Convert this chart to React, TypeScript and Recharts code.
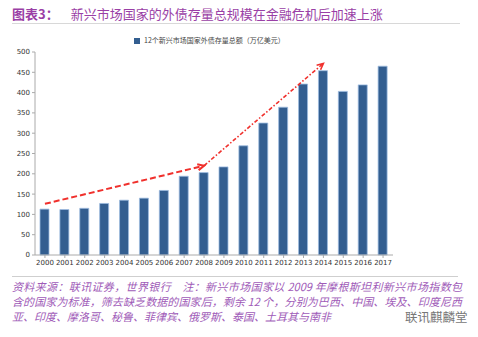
import React from "react"
import { BarChart, Bar, XAxis, YAxis, Legend, ReferenceLine } from "recharts"

const years = ["2000", "2001", "2002", "2003", "2004", "2005", "2006", "2007", "2008", "2009", "2010", "2011", "2012", "2013", "2014", "2015", "2016", "2017"]
const debtTotals = [113, 112, 115, 127, 135, 140, 159, 194, 203, 217, 269, 325, 364, 421, 454, 403, 419, 465]
const yTicks = [0, 50, 100, 150, 200, 250, 300, 350, 400, 450, 500]

// trend arrows (drawn by hand in the original)
const slowTrendYears = ["2000", "2008"]
const slowTrendValues = [126, 220]
const fastTrendYears = ["2008", "2014"]
const fastTrendValues = [220, 472]

const seriesName = "12个新兴市场国家外债存量总额（万亿美元）"
const titleLabel = "图表3："
const titleText = "新兴市场国家的外债存量总规模在金融危机后加速上涨"
const noteLines = [
  "资料来源：联讯证券，世界银行　注：新兴市场国家以 2009 年摩根斯坦利新兴市场指数包",
  "含的国家为标准，筛去缺乏数据的国家后，剩余 12 个，分别为巴西、中国、埃及、印度尼西",
  "亚、印度、摩洛哥、秘鲁、菲律宾、俄罗斯、泰国、土耳其与南非",
]
const watermark = "联讯麒麟堂"

const data = years.map((year, i) => ({ year, total: debtTotals[i] }))

const CJK = '"Noto Sans CJK SC", "Noto Sans", sans-serif'
const RED = "#f0302c"

const arrowShape = (dash: string, width: number) => (props: any) => {
  const { x1, y1, x2, y2 } = props
  const ang = Math.atan2(y2 - y1, x2 - x1)
  const len = 7
  const a1 = ang + Math.PI - 0.45
  const a2 = ang + Math.PI + 0.45
  return (
    <g>
      <line x1={x1} y1={y1} x2={x2} y2={y2} stroke={RED} strokeWidth={width} strokeDasharray={dash} fill="none" />
      <polyline
        points={`${x2 + len * Math.cos(a1)},${y2 + len * Math.sin(a1)} ${x2},${y2} ${x2 + len * Math.cos(a2)},${y2 + len * Math.sin(a2)}`}
        stroke={RED}
        strokeWidth={width}
        fill="none"
      />
    </g>
  )
}

export default function App() {
  return (
    <div style={{ position: "absolute", left: 0, top: 0, width: 478, height: 337, background: "#fff", fontFamily: CJK }}>
      <div style={{ position: "absolute", left: 12, top: 4, fontSize: 13, color: "#9a3fa6", whiteSpace: "nowrap" }}>
        <span style={{ fontWeight: "bold" }}>{titleLabel}</span>
        <span style={{ marginLeft: 12 }}>{titleText}</span>
      </div>
      <div style={{ position: "absolute", left: 12, top: 23, width: 448, height: 1, background: "#d8d8d8" }} />

      <div style={{ position: "absolute", left: 0, top: 0 }}>
        <BarChart width={478} height={280} data={data} margin={{ top: 42, right: 85, bottom: 0, left: 0 }}>
          <Legend
            verticalAlign="top"
            align="left"
            iconType="square"
            iconSize={6}
            wrapperStyle={{ top: 35, left: 134, width: 220, fontSize: 7, lineHeight: "10px" }}
            formatter={(v: string) => <span style={{ color: "#444" }}>{v}</span>}
          />
          <XAxis
            dataKey="year"
            height={25}
            tick={{ fontSize: 7, fill: "#333", fontFamily: "DejaVu Sans" }}
            tickLine={{ stroke: "#aaa" }}
            axisLine={{ stroke: "#aaa" }}
            tickSize={3}
            interval={0}
          />
          <YAxis
            domain={[0, 500]}
            ticks={yTicks}
            width={35}
            tick={{ fontSize: 7, fill: "#333", fontFamily: "DejaVu Sans" }}
            tickLine={{ stroke: "#aaa" }}
            axisLine={{ stroke: "#aaa" }}
            tickSize={3}
            tickMargin={2}
          />
          <Bar dataKey="total" name={seriesName} fill="#335e90" stroke="#9dbbe0" strokeWidth={0.8} barSize={9} isAnimationActive={false} />
          <ReferenceLine
            segment={slowTrendYears.map((x, i) => ({ x, y: slowTrendValues[i] }))}
            shape={arrowShape("6 3", 2)}
          />
          <ReferenceLine
            segment={fastTrendYears.map((x, i) => ({ x, y: fastTrendValues[i] }))}
            shape={arrowShape("4 2 1.5 2", 1.6)}
          />
        </BarChart>
      </div>

      <div style={{ position: "absolute", left: 12, top: 276, width: 446, height: 1, background: "#cfcfcf" }} />
      <div style={{ position: "absolute", left: 12, top: 279, width: 450, fontSize: 11, lineHeight: "15px", color: "#a05bb8", fontStyle: "italic", whiteSpace: "nowrap" }}>
        {noteLines.map((l, i) => (
          <div
            key={i}
            style={
              i < 2
                ? ({ textAlign: "justify", textAlignLast: "justify" } as any)
                : { width: "fit-content" }
            }
          >
            {l}
          </div>
        ))}
      </div>
      <div style={{ position: "absolute", left: 405, top: 309, fontSize: 12.5, lineHeight: "15px", color: "#777", whiteSpace: "nowrap" }}>{watermark}</div>
    </div>
  )
}
